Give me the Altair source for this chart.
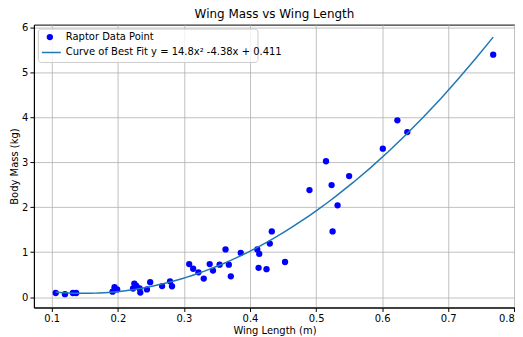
import altair as alt
import pandas as pd

# Data
wing_length = [0.106, 0.120, 0.132, 0.137, 0.192, 0.195, 0.199, 0.223, 0.225, 0.228,
               0.233, 0.234, 0.244, 0.249, 0.267, 0.279, 0.282, 0.308, 0.314, 0.322,
               0.330, 0.339, 0.344, 0.354, 0.363, 0.368, 0.371, 0.386, 0.411, 0.414,
               0.413, 0.425, 0.430, 0.433, 0.453, 0.490, 0.515, 0.5235, 0.525, 0.5325,
               0.550, 0.601, 0.623, 0.638, 0.768]
body_mass = [0.09, 0.065, 0.09, 0.09, 0.12, 0.22, 0.17, 0.19, 0.30, 0.25,
             0.19, 0.10, 0.17, 0.33, 0.245, 0.35, 0.24, 0.733, 0.63, 0.55,
             0.41, 0.733, 0.59, 0.72, 1.06, 0.72, 0.46, 0.98, 1.06, 0.96,
             0.65, 0.62, 1.19, 1.46, 0.78, 2.38, 3.02, 2.49, 1.46, 2.04,
             2.69, 3.30, 3.93, 3.67, 5.39]

x_ticks = [0.1, 0.2, 0.3, 0.4, 0.5, 0.6, 0.7, 0.8]
y_ticks = [0, 1, 2, 3, 4, 5, 6]
legend_labels = ["Raptor Data Point", "Curve of Best Fit y = 14.8x\u00b2 -4.38x + 0.411"]

df = pd.DataFrame({"x": wing_length, "y": body_mass})

FONT = "DejaVu Sans"

xscale = alt.Scale(domain=[0.073, 0.801], nice=False, zero=False)
yscale = alt.Scale(domain=[-0.232, 6.059], nice=False, zero=False)

xaxis = alt.Axis(title="Wing Length (m)", values=x_ticks, format=".1f", grid=True)
yaxis = alt.Axis(title="Body Mass (kg)", values=y_ticks, format="d", grid=True)

points = alt.Chart(df).mark_circle(color="#0000ff", opacity=1, size=40).encode(
    x=alt.X("x:Q", scale=xscale, axis=xaxis),
    y=alt.Y("y:Q", scale=yscale, axis=yaxis),
)

curve = alt.Chart(df).transform_regression(
    "x", "y", method="poly", order=2
).mark_line(color="#1f77b4", strokeWidth=1.5, clip=True).encode(
    x=alt.X("x:Q", scale=xscale),
    y=alt.Y("y:Q", scale=yscale),
)

one = alt.Data(values=[{"k": 0}])

legend_box = alt.Chart(one).mark_rect(
    fill="white", fillOpacity=0.8, stroke="#cccccc", strokeWidth=1, cornerRadius=3
).encode(x=alt.value(4.5), x2=alt.value(225), y=alt.value(4.5), y2=alt.value(38))

legend_point = alt.Chart(one).mark_circle(color="#0000ff", opacity=1, size=40).encode(
    x=alt.value(16), y=alt.value(12.5)
)

legend_line = alt.Chart(one).mark_rule(color="#1f77b4", strokeWidth=1.5).encode(
    x=alt.value(8), x2=alt.value(27), y=alt.value(28)
)

legend_text1 = alt.Chart(one).mark_text(
    text=legend_labels[0], align="left", baseline="middle", font=FONT, fontSize=10, color="black"
).encode(x=alt.value(32), y=alt.value(12.5))

legend_text2 = alt.Chart(one).mark_text(
    text=legend_labels[1], align="left", baseline="middle", font=FONT, fontSize=10, color="black"
).encode(x=alt.value(32), y=alt.value(28))

chart = alt.layer(
    points, curve, legend_box, legend_point, legend_line, legend_text1, legend_text2
).properties(
    width=483,
    height=284,
    title=alt.TitleParams("Wing Mass vs Wing Length", fontSize=12, fontWeight="normal",
                          font=FONT, offset=1, anchor="middle", color="black", frame="group"),
    autosize=alt.AutoSizeParams(type="none"),
    padding={"left": 26, "top": 16, "right": 0, "bottom": 40},
).configure_view(
    stroke="black", strokeWidth=1
).configure_axis(
    domainColor="black", tickColor="black", tickSize=4, labelPadding=2,
    labelFont=FONT, titleFont=FONT, labelFontSize=10, titleFontSize=10,
    labelColor="black", titleColor="black", titleFontWeight="normal",
    gridColor="#b0b0b0", gridWidth=0.8, titlePadding=2,
)

chart.save("out.html", embed_options={"renderer": "svg", "actions": False})
